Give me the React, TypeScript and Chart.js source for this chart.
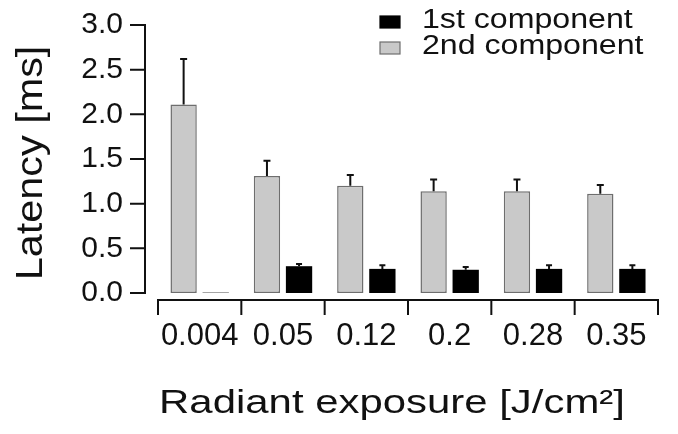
import React, { useEffect, useRef } from "react";
import { Chart, registerables } from "chart.js";

Chart.register(...registerables);

const categories = ["0.004", "0.05", "0.12", "0.2", "0.28", "0.35"];
const secondMeans = [2.11, 1.31, 1.2, 1.14, 1.14, 1.11];
const secondErrors = [0.51, 0.17, 0.12, 0.13, 0.13, 0.1];
const firstMeans = [0.01, 0.3, 0.27, 0.26, 0.27, 0.27];
const firstErrors = [0, 0.025, 0.04, 0.03, 0.04, 0.04];
const yTicks = [0, 0.5, 1.0, 1.5, 2.0, 2.5, 3.0];
const legendLabels = ["1st component", "2nd component"];
const yTitle = "Latency [ms]";
const xTitle = "Radiant exposure [J/cm²]";

const FONT = "'Liberation Sans', Arial, Helvetica, sans-serif";
const INK = "#111111";
const GREY_FILL = "#c9c9c9";
const GREY_EDGE = "#6e6e6e";

function drawStretched(
  ctx: CanvasRenderingContext2D,
  text: string,
  x: number,
  y: number,
  size: number,
  sx: number,
  align: CanvasTextAlign,
  rotate: boolean
) {
  ctx.save();
  ctx.translate(x, y);
  if (rotate) ctx.rotate(-Math.PI / 2);
  ctx.scale(sx, 1);
  ctx.font = `${size}px ${FONT}`;
  ctx.fillStyle = INK;
  ctx.textAlign = align;
  ctx.textBaseline = "alphabetic";
  ctx.fillText(text, 0, 0);
  ctx.restore();
}

const errorBarPlugin = {
  id: "errorBars",
  afterDatasetsDraw(chart: any) {
    const { ctx, scales } = chart;
    const y = scales.y;
    const sets = [
      { means: secondMeans, errs: secondErrors, idx: 0, cap: 7 },
      { means: firstMeans, errs: firstErrors, idx: 1, cap: 6 },
    ];
    ctx.save();
    ctx.strokeStyle = INK;
    ctx.lineWidth = 2;
    sets.forEach((s) => {
      const meta = chart.getDatasetMeta(s.idx);
      meta.data.forEach((bar: any, j: number) => {
        if (!s.errs[j]) return;
        const yb = y.getPixelForValue(s.means[j]);
        const yt = y.getPixelForValue(s.means[j] + s.errs[j]);
        ctx.beginPath();
        ctx.moveTo(bar.x, yb);
        ctx.lineTo(bar.x, yt);
        ctx.moveTo(bar.x - s.cap / 2, yt);
        ctx.lineTo(bar.x + s.cap / 2, yt);
        ctx.stroke();
      });
    });
    ctx.restore();
  },
};

const axesPlugin = {
  id: "offsetAxes",
  afterDraw(chart: any) {
    const { ctx, chartArea, scales } = chart;
    const x = scales.x;
    const y = scales.y;
    ctx.save();
    ctx.strokeStyle = INK;
    ctx.lineWidth = 2;
    const ax = chartArea.left - 13;
    const y0 = y.getPixelForValue(yTicks[0]);
    const y1 = y.getPixelForValue(yTicks[yTicks.length - 1]);
    ctx.beginPath();
    ctx.moveTo(ax, y0 + 1);
    ctx.lineTo(ax, y1 - 1);
    yTicks.forEach((v) => {
      const py = y.getPixelForValue(v);
      ctx.moveTo(ax + 1, py);
      ctx.lineTo(ax - 15, py);
    });
    ctx.stroke();
    const ay = chartArea.bottom + 7;
    const half = (x.getPixelForValue(1) - x.getPixelForValue(0)) / 2;
    const first = x.getPixelForValue(0) - half;
    const last = x.getPixelForValue(categories.length - 1) + half;
    ctx.beginPath();
    ctx.moveTo(first - 1, ay);
    ctx.lineTo(last + 1, ay);
    for (let i = 0; i <= categories.length; i++) {
      const px = first + i * 2 * half;
      ctx.moveTo(px, ay - 1);
      ctx.lineTo(px, ay + 15);
    }
    ctx.stroke();
    ctx.restore();
  },
};

const textPlugin = {
  id: "titlesAndLegend",
  afterDraw(chart: any) {
    const { ctx, chartArea } = chart;
    // axis titles
    drawStretched(ctx, yTitle, 42, (chartArea.top + chartArea.bottom) / 2 + 4, 36, 1.15, "center", true);
    drawStretched(ctx, xTitle, 392, 413, 33, 1.27, "center", false);
    // legend
    const entries = [
      { label: legendLabels[0], fill: "#000000", edge: "#000000" },
      { label: legendLabels[1], fill: GREY_FILL, edge: GREY_EDGE },
    ];
    ctx.save();
    entries.forEach((e, i) => {
      const base = 28 + i * 26;
      ctx.fillStyle = e.fill;
      ctx.fillRect(380, base - 12, 20, 12);
      ctx.strokeStyle = e.edge;
      ctx.lineWidth = 1.2;
      ctx.strokeRect(380, base - 12, 20, 12);
      drawStretched(ctx, e.label, 422, base, 27, 1.19, "left", false);
    });
    ctx.restore();
  },
};

export default function App() {
  const ref = useRef<HTMLCanvasElement | null>(null);
  useEffect(() => {
    if (!ref.current) return;
    const chart = new Chart(ref.current, {
      type: "bar",
      data: {
        labels: categories,
        datasets: [
          {
            label: legendLabels[1],
            data: secondMeans,
            backgroundColor: GREY_FILL,
            borderColor: GREY_EDGE,
            borderWidth: 1.5,
            borderSkipped: false,
            categoryPercentage: 0.77,
            barPercentage: 0.82,
          },
          {
            label: legendLabels[0],
            data: firstMeans,
            backgroundColor: firstMeans.map((v, i) => (i === 0 ? "#9a9a9a" : "#000000")),
            borderWidth: 0,
            categoryPercentage: 0.77,
            barPercentage: 0.82,
          },
        ],
      },
      options: {
        responsive: false,
        animation: false,
        layout: { padding: { top: 19, right: 20, left: 0, bottom: 0 } },
        plugins: {
          legend: { display: false },
          tooltip: { enabled: false },
        },
        scales: {
          x: {
            type: "category",
            offset: true,
            grid: { display: false, drawTicks: true, tickLength: 22, offset: true },
            border: { display: false },
            ticks: {
              color: INK,
              font: { family: FONT, size: 31 },
              padding: 3,
              maxRotation: 0,
              autoSkip: false,
            },
            afterFit: (s: any) => {
              s.height = 141;
            },
          },
          y: {
            min: 0,
            max: 3,
            afterBuildTicks: (s: any) => {
              s.ticks = yTicks.map((v) => ({ value: v }));
            },
            grid: { display: false, drawTicks: true, tickLength: 28 },
            border: { display: false },
            ticks: {
              color: INK,
              font: { family: FONT, size: 30 },
              padding: 7,
              callback: (v: any) => Number(v).toFixed(1),
            },
            afterFit: (s: any) => {
              s.width = 158;
            },
          },
        },
      },
      plugins: [errorBarPlugin, axesPlugin, textPlugin],
    });
    return () => chart.destroy();
  }, []);
  return (
    <div style={{ position: "absolute", left: 0, top: 0, width: 678, height: 434, background: "#fff" }}>
      <canvas ref={ref} width={678} height={434} style={{ display: "block" }} />
    </div>
  );
}
